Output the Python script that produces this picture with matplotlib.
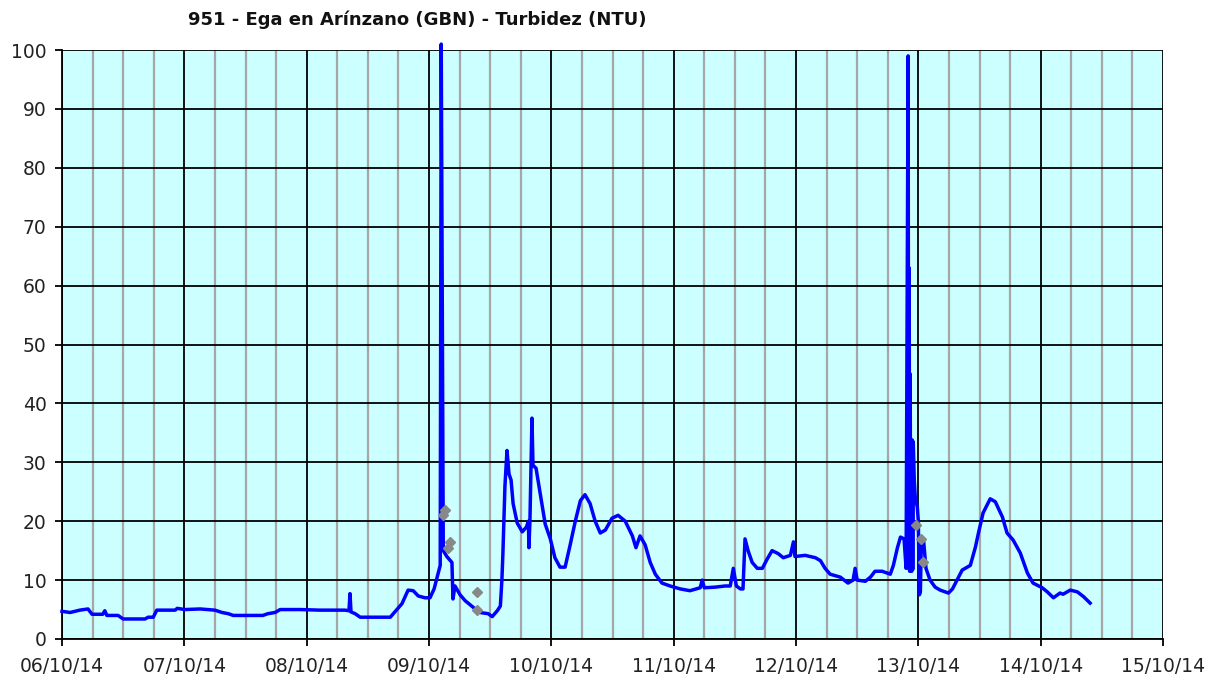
import numpy as np
import matplotlib
matplotlib.use("Agg")
import matplotlib.pyplot as plt
from matplotlib.ticker import MultipleLocator

# hours since 06/10/14 00:00 and turbidity (NTU)
hours = [0.0, 1.6, 3.5, 5.1, 5.9, 8.0, 8.4, 8.8, 11.0, 12.0, 16.3, 16.9, 17.9, 18.6,
         22.2, 22.6, 24.1, 27.1, 30.0, 31.4, 32.6, 33.6, 39.4, 40.4, 41.8, 42.8, 46.7,
         50.6, 55.5, 56.3, 56.5, 56.7, 57.5, 58.5, 64.4, 65.3, 66.7, 67.9, 68.9, 69.9,
         71.2, 72.2, 73.0, 73.6, 74.2, 74.4, 74.6, 74.8, 75.5, 76.5, 76.7, 77.1, 78.1,
         79.1, 80.5, 82.0, 83.6, 84.4, 85.4, 86.0, 86.3, 86.5, 86.9, 87.3, 87.7, 88.1,
         88.5, 89.3, 90.3, 91.1, 91.5, 91.6, 91.8, 92.2, 92.4, 93.0, 93.8, 94.8, 95.8,
         96.7, 97.7, 98.7, 99.7, 100.7, 101.7, 102.6, 103.6, 104.6, 105.6, 106.6, 107.9,
         109.1, 110.5, 111.9, 112.6, 113.4, 114.4, 115.4, 116.4, 117.7, 119.3, 121.3,
         123.2, 125.2, 125.6, 126.0, 128.1, 130.1, 131.1, 131.7, 132.3, 133.1, 133.6,
         134.0, 134.6, 135.4, 136.4, 137.4, 138.3, 139.3, 140.5, 141.5, 142.9, 143.5,
         143.8, 145.8, 147.8, 148.8, 149.7, 150.7, 152.7, 154.2, 155.2, 155.6, 156.0,
         157.6, 158.6, 159.5, 160.9, 162.5, 163.1, 163.9, 164.5, 165.2, 165.6, 166.0,
         166.1, 166.2, 166.3, 166.4, 166.5, 166.6, 166.7, 166.8, 166.9, 167.0, 167.2,
         167.4, 167.8, 168.0, 168.2, 168.4,
         168.6, 169.0, 169.5, 170.3, 171.3, 172.3, 173.9, 174.7, 175.6, 176.6, 178.2,
         179.2, 179.8, 180.7, 182.1, 183.1, 184.5, 185.4, 186.6, 188.0, 189.4, 190.5,
         192.3, 193.3, 194.5, 195.8, 196.4, 197.8, 199.2, 200.4, 201.7]
ntu = [4.7, 4.5, 4.9, 5.1, 4.2, 4.2, 4.8, 4.0, 4.0, 3.4, 3.4, 3.7, 3.7, 4.9,
       4.9, 5.2, 5.0, 5.1, 4.9, 4.5, 4.3, 4.0, 4.0, 4.3, 4.5, 5.0, 5.0,
       4.9, 4.9, 4.8, 7.7, 4.6, 4.3, 3.7, 3.7, 4.6, 6.0, 8.3, 8.2, 7.3,
       7.0, 7.0, 8.5, 10.5, 12.5, 101.0, 60.0, 15.0, 14.0, 13.0, 6.8, 9.0, 7.5,
       6.5, 5.5, 4.5, 4.3, 3.8, 4.8, 5.6, 10.0, 14.6, 26.0, 32.0, 28.0, 27.0,
       23.0, 19.7, 18.2, 19.0, 20.0, 15.5, 20.0, 37.5, 29.5, 29.0, 24.8, 19.5, 17.0,
       13.8, 12.2, 12.2, 16.0, 20.0, 23.5, 24.5, 23.0, 20.0, 18.0, 18.5, 20.5,
       21.0, 20.0, 17.5, 15.5, 17.5, 16.0, 13.0, 11.0, 9.5, 9.0, 8.5,
       8.2, 8.7, 10.0, 8.7, 8.8, 9.0, 9.0, 12.0, 9.0, 8.5, 8.5,
       17.0, 15.0, 13.0, 12.0, 12.0, 13.5, 15.0, 14.5, 13.8, 14.2, 16.5,
       14.0, 14.2, 13.8, 13.3, 12.0, 11.0, 10.5, 9.5, 10.0, 12.0, 10.0,
       9.8, 10.5, 11.5, 11.5, 11.0, 12.5, 15.5, 17.3, 17.0, 12.0, 99.0,
       12.0, 63.0, 11.5, 45.0, 12.0, 30.0, 11.5, 33.8, 11.8, 33.5, 27.0,
       24.0, 22.4, 20.0, 7.5, 8.0,
       17.0, 17.0, 12.0, 10.0, 8.8, 8.3, 7.8, 8.5, 10.0, 11.7, 12.5,
       15.6, 18.0, 21.4, 23.8, 23.3, 20.7, 18.0, 16.8, 14.6, 11.2, 9.5,
       8.7, 8.0, 7.0, 7.8, 7.6, 8.3, 8.0, 7.2, 6.1]

# isolated grey samples
flag_hours = [74.8, 75.2, 75.7, 76.1, 81.4, 81.4, 167.6, 168.6, 169.0]
flag_ntu = [21.0, 21.9, 15.4, 16.5, 8.0, 4.9, 19.4, 17.0, 13.1]

day_labels = ["06/10/14", "07/10/14", "08/10/14", "09/10/14", "10/10/14",
              "11/10/14", "12/10/14", "13/10/14", "14/10/14", "15/10/14"]

fig = plt.figure(figsize=(12.22, 6.79), dpi=100)
ax = fig.add_axes([62 / 1222, 1 - 639 / 679, 1101 / 1222, 589 / 679])
ax.set_facecolor("#ccffff")

ax.set_xlim(0, 24 * (len(day_labels) - 1))
ax.set_ylim(0, 100)

ax.set_xticks(np.arange(len(day_labels)) * 24)
ax.set_xticklabels(day_labels)
ax.xaxis.set_minor_locator(MultipleLocator(6))
ax.yaxis.set_major_locator(MultipleLocator(10))

ax.grid(which="minor", axis="x", color="#a6a6a6", linewidth=1.6, zorder=0)
ax.grid(which="major", axis="x", color="black", linewidth=1.3, zorder=0)
ax.grid(which="major", axis="y", color="black", linewidth=1.3, zorder=0)
ax.set_axisbelow(True)

ax.plot(hours, ntu, color="#0000ff", linewidth=2.5, zorder=3, clip_on=False)
ax.plot(flag_hours, flag_ntu, linestyle="none", marker="D", markersize=5,
        color="#888888", zorder=4)

for s in ["top", "right"]:
    ax.spines[s].set_visible(False)
for s in ["left", "bottom"]:
    ax.spines[s].set_linewidth(1.3)

ax.tick_params(which="major", direction="out", length=5, width=1.3,
               labelsize=13.5, colors="black")
ax.tick_params(axis="x", which="major", pad=8)
ax.tick_params(axis="y", which="major", pad=6)
ax.tick_params(which="minor", length=0)
for lab in ax.get_xticklabels() + ax.get_yticklabels():
    lab.set_color("#222222")

fig.text(417 / 1222, 1 - 20 / 679, "951 - Ega en Arínzano (GBN) - Turbidez (NTU)",
         ha="center", va="center", fontsize=13, fontweight="bold", color="#111111")

fig.savefig("out.png", dpi=100)
